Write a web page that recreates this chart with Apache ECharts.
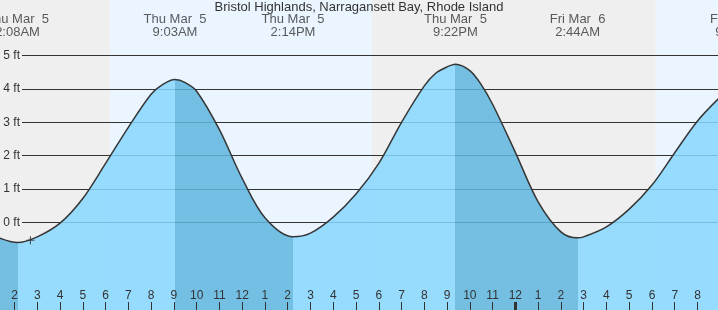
<!DOCTYPE html>
<html><head><meta charset="utf-8">
<script src="https://cdn.jsdelivr.net/npm/echarts@6/dist/echarts.min.js"></script>
<style>html,body{margin:0;padding:0;background:#fff}#c{width:718px;height:310px}</style>
</head><body><div id="c"></div>
<script>
// ---- data (hours counted from midnight, Thu Mar 5) ----
const chartTitle = 'Bristol Highlands, Narragansett Bay, Rhode Island';
const tideHours = [1.36, 2.133, 3, 4, 5, 6, 7, 8, 8.5, 9.05, 9.5, 10, 11, 12, 13, 14.233, 15, 16, 17, 18, 19, 20, 20.5, 21, 21.367, 22, 22.5, 23, 24, 25, 26, 26.733, 27, 28, 29, 30, 31, 32, 33];
const tideFeet  = [-0.47, -0.60, -0.43, -0.02, 0.72, 1.77, 2.85, 3.84, 4.13, 4.28, 4.19, 3.93, 2.78, 1.32, 0.14, -0.43, -0.32, 0.16, 0.85, 1.77, 3.0, 4.09, 4.47, 4.66, 4.74, 4.55, 4.13, 3.54, 2.10, 0.62, -0.28, -0.46, -0.43, -0.13, 0.40, 1.12, 2.09, 3.04, 3.76];
const extremeHours  = [2.133, 9.05, 14.233, 21.367, 26.733, 33.767];
const extremeKinds  = ['low', 'high', 'low', 'high', 'low', 'high'];
const extremeLabels = ['Thu Mar  5\n2:08AM', 'Thu Mar  5\n9:03AM', 'Thu Mar  5\n2:14PM', 'Thu Mar  5\n9:22PM', 'Fri Mar  6\n2:44AM', 'Fri Mar  6\n9:46AM'];
const sunriseHours = [6.2, 30.17];
const sunsetHours  = [17.68];
const midnightHours = [24];
const nowHour = 2.7;
const nowFeet = -0.53;
const feetTicks = [0, 5];

// ---- styling ----
const FONT = '"Liberation Sans", Arial, Helvetica, sans-serif';
const X_MIN = 1.363, X_MAX = 32.9;
const Y_MIN = -2.62, Y_MAX = 6.662;
const NIGHT = '#efefef', DAY = '#eaf5ff';
const LIGHT = '#87d7ff', DARK = '#5eb6df';
const SMOOTH = 0.33;

const tideData = tideHours.map((h, i) => [h, tideFeet[i]]);

const pieces = [{ lt: extremeHours[0], color: extremeKinds[0] === 'low' ? DARK : LIGHT }];
extremeHours.forEach((h, i) => {
  const p = { gte: h, color: extremeKinds[i] === 'low' ? LIGHT : DARK };
  if (i + 1 < extremeHours.length) p.lt = extremeHours[i + 1];
  pieces.push(p);
});

const bandEdges = [X_MIN, sunriseHours[0], sunsetHours[0], sunriseHours[1], X_MAX];
const bandKinds = ['night', 'day', 'night', 'day'];
const bands = bandKinds.map((k, i) => [
  { xAxis: bandEdges[i], itemStyle: { color: k === 'day' ? DAY : NIGHT } },
  { xAxis: bandEdges[i + 1] }
]);

const chart = echarts.init(document.getElementById('c'), null, { renderer: 'canvas' });
chart.setOption({
  animation: false,
  backgroundColor: '#fff',
  title: {
    text: chartTitle, left: 'center', top: 1, padding: 0, z: 6,
    textStyle: { fontSize: 13, fontWeight: 'normal', color: '#333', fontFamily: FONT }
  },
  grid: [
    { left: 0, right: 0, top: 0, bottom: 0 },
    { left: 22, right: 0, top: 55.5, bottom: 87.5 },
    { left: 14.5, right: 20.5, top: 302, bottom: 0 }
  ],
  xAxis: [
    { gridIndex: 0, type: 'value', min: X_MIN, max: X_MAX, show: false },
    { gridIndex: 1, type: 'value', min: 0, max: 1, show: false },
    { gridIndex: 2, type: 'value', min: 2, max: 32, interval: 1, z: 6,
      axisLine: { show: false },
      axisTick: { show: true, inside: true, length: 8, lineStyle: { color: '#333', width: 1 } },
      axisLabel: { inside: true, margin: 8, color: '#333', fontSize: 12, fontFamily: FONT,
        formatter: v => { const h = Math.round(v) % 12; return String(h === 0 ? 12 : h); } },
      splitLine: { show: false } }
  ],
  yAxis: [
    { gridIndex: 0, type: 'value', min: Y_MIN, max: Y_MAX, show: false },
    { gridIndex: 0, type: 'value', min: 0, max: 1, show: false },
    { gridIndex: 1, type: 'value', min: feetTicks[0], max: feetTicks[1], interval: 1, z: 1,
      axisLine: { show: false }, axisTick: { show: false },
      axisLabel: { formatter: '{value} ft', margin: 2, color: '#333', fontSize: 12, fontFamily: FONT },
      splitLine: { show: true, lineStyle: { color: '#333', width: 1 } } },
    { gridIndex: 2, type: 'value', min: 0, max: 1, show: false }
  ],
  visualMap: { type: 'piecewise', show: false, dimension: 0, seriesIndex: 1, pieces: pieces },
  series: [
    { type: 'line', xAxisIndex: 0, yAxisIndex: 0, data: tideData, symbol: 'none', silent: true, z: 0,
      lineStyle: { opacity: 0 },
      markArea: { silent: true, z: 0, data: bands } },
    { type: 'line', xAxisIndex: 0, yAxisIndex: 0, data: tideData, symbol: 'none', silent: true, z: 2,
      smooth: SMOOTH,
      lineStyle: { width: 0 }, areaStyle: { opacity: 0.85, origin: 'start' } },
    { type: 'line', xAxisIndex: 0, yAxisIndex: 0, data: tideData, symbol: 'none', silent: true, z: 3,
      smooth: SMOOTH,
      lineStyle: { color: '#363636', width: 1.5 } },
    { type: 'scatter', xAxisIndex: 0, yAxisIndex: 1, clip: false, silent: true, z: 4,
      data: extremeHours.map(h => [h, 1]), symbolSize: 1, itemStyle: { color: 'rgba(0,0,0,0)' },
      label: { show: true, position: 'bottom', distance: 12, align: 'center',
        formatter: p => extremeLabels[p.dataIndex],
        fontSize: 13, lineHeight: 13, color: '#333', fontFamily: FONT } },
    { type: 'scatter', xAxisIndex: 0, yAxisIndex: 0, silent: true, z: 5,
      data: [[nowHour, nowFeet]],
      symbol: 'path://M3,0h1v7h-1zM0,3h7v1h-7z', symbolSize: 8, symbolKeepAspect: true,
      itemStyle: { color: '#333' } },
    { type: 'line', xAxisIndex: 2, yAxisIndex: 3, data: [], silent: true, z: 5,
      markLine: { symbol: 'none', silent: true, z: 6, label: { show: false },
        lineStyle: { color: '#333', width: 3, type: 'solid' },
        data: midnightHours.map(h => ({ xAxis: h })) } }
  ]
});
</script></body></html>
